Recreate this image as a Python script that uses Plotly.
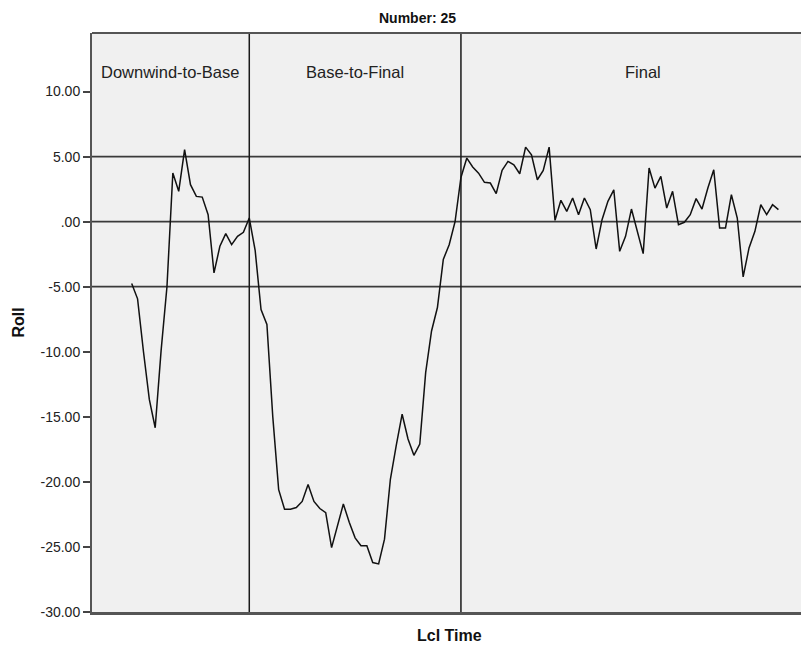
import plotly.graph_objects as go

# ---- data ----
time_index = list(range(111))
roll = [
    -4.76, -5.93, -9.98, -13.66, -15.84, -9.93, -5.0, 3.74, 2.33, 5.53,
    2.84, 1.94, 1.89, 0.54, -3.94, -1.89, -0.92, -1.77, -1.13, -0.82,
    0.28, -2.2, -6.75, -7.9, -15.0, -20.6, -22.1, -22.1, -21.97, -21.5,
    -20.2, -21.5, -22.05, -22.36, -25.05, -23.4, -21.7, -23.1, -24.3, -24.9,
    -24.9, -26.2, -26.3, -24.4, -19.8, -17.2, -14.8, -16.7, -17.96, -17.1,
    -11.6, -8.4, -6.6, -2.9, -1.77, 0.0, 3.4, 4.89, 4.2, 3.73,
    3.02, 2.97, 2.15, 3.94, 4.63, 4.37, 3.68, 5.73, 5.14, 3.22,
    3.94, 5.73, 0.10, 1.64, 0.79, 1.82, 0.54, 1.82, 0.92, -2.1,
    0.15, 1.56, 2.45, -2.28, -1.13, 0.97, -0.74, -2.46, 4.12, 2.58,
    3.48, 1.05, 2.33, -0.23, -0.05, 0.54, 1.77, 0.97, 2.58, 3.99,
    -0.48, -0.48, 2.07, 0.28, -4.24, -2.02, -0.74, 1.30, 0.54, 1.30,
    0.92,
]
phase_names = ["Downwind-to-Base", "Base-to-Final", "Final"]
phase_boundaries = [20, 56]
reference_levels = [5, 0, -5]
y_tick_values = [-30, -25, -20, -15, -10, -5, 0, 5, 10]
y_tick_labels = ["-30.00", "-25.00", "-20.00", "-15.00", "-10.00", "-5.00", ".00", "5.00", "10.00"]
chart_title = "Number: 25"
x_title = "Lcl Time"
y_title = "Roll"

# ---- figure ----
# The page body adds an 8px margin, so the figure is 8px smaller than the window.
X_RANGE = [-6.75, 115.2]
Y_RANGE = [-30, 14.5]
FONT = "Liberation Sans, Arial, sans-serif"

fig = go.Figure()
fig.add_trace(go.Scatter(
    x=time_index, y=roll, mode="lines",
    line=dict(color="#111111", width=1.5),
    hoverinfo="x+y",
))

shapes = []
for lvl in reference_levels:
    shapes.append(dict(type="line", xref="paper", yref="y", x0=0, x1=1, y0=lvl, y1=lvl,
                       line=dict(color="#3a3a3a", width=1.7), layer="below"))
for b in phase_boundaries:
    shapes.append(dict(type="line", xref="x", yref="paper", x0=b, x1=b, y0=0, y1=1,
                       line=dict(color="#1a1a1a", width=1.5), layer="below"))
# top border
shapes.append(dict(type="line", xref="paper", yref="paper", x0=0, x1=1, y0=1, y1=1,
                   line=dict(color="#555555", width=2)))

label_x = [6.6, 38, 87]
annotations = []
for name, lx in zip(phase_names, label_x):
    annotations.append(dict(x=lx, y=11.5, xref="x", yref="y", text=name, showarrow=False,
                            font=dict(family=FONT, size=16.5, color="#222222"),
                            xanchor="center", yanchor="middle"))
annotations.append(dict(x=0.454, y=1.0, xref="paper", yref="paper", yshift=15,
                        text="<b>" + chart_title + "</b>", showarrow=False,
                        font=dict(family=FONT, size=14, color="#111111"),
                        xanchor="center", yanchor="middle"))
annotations.append(dict(x=0.4985, y=0, xref="paper", yref="paper", yshift=-23,
                        text="<b>" + x_title + "</b>", showarrow=False,
                        font=dict(family=FONT, size=16, color="#111111"),
                        xanchor="center", yanchor="middle"))
annotations.append(dict(x=0, y=0.5, xref="paper", yref="paper", xshift=-74,
                        text="<b>" + y_title + "</b>", showarrow=False, textangle=-90,
                        font=dict(family=FONT, size=16, color="#111111"),
                        xanchor="center", yanchor="middle"))

fig.update_layout(
    width=801, height=640,
    margin=dict(l=84, r=0, t=25, b=36),
    paper_bgcolor="white", plot_bgcolor="#F0F0F0",
    showlegend=False,
    shapes=shapes, annotations=annotations,
    xaxis=dict(range=X_RANGE, showticklabels=False, ticks="", showgrid=False,
               zeroline=False, showline=True, linecolor="#555555", linewidth=3),
    yaxis=dict(range=Y_RANGE, tickvals=y_tick_values, ticktext=y_tick_labels,
               ticks="outside", ticklen=7, tickwidth=1.5, tickcolor="#444444",
               tickfont=dict(family=FONT, size=14, color="#222222"),
               showgrid=False, zeroline=False, showline=True,
               linecolor="#555555", linewidth=2),
)

fig.write_html("out.html")
